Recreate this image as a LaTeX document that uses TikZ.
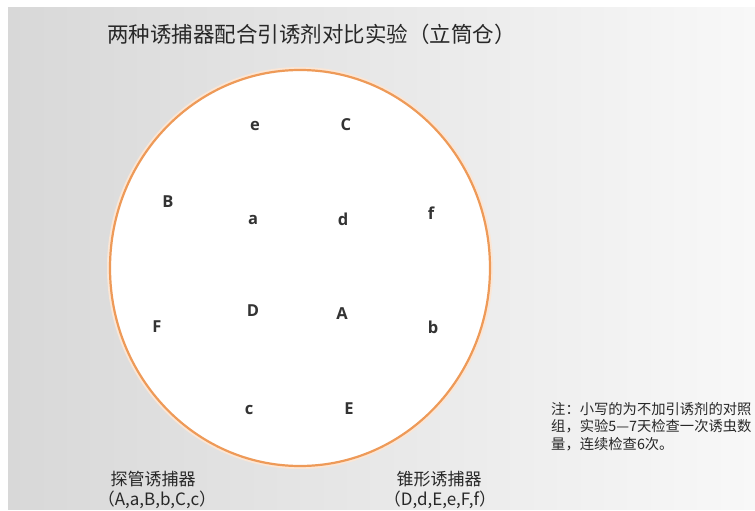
\documentclass[tikz,border=0pt]{standalone}
\usepackage{fontspec}
\setmainfont{Open Sans}
\newfontfamily\cjk{Noto Sans CJK SC}
\definecolor{bgl}{RGB}{216,216,216}
\definecolor{bgr}{RGB}{248,248,248}
\definecolor{ring}{RGB}{238,154,88}
\definecolor{ink}{RGB}{40,40,40}
\begin{document}
\begin{tikzpicture}[x=1pt,y=-1pt,
  letter/.style={inner sep=0pt,text=ink!95,font=\bfseries\fontsize{16.5}{17}\selectfont},
  title/.style={inner sep=0pt,anchor=west,text=ink,font=\cjk\fontsize{21.5}{22}\selectfont},
  label/.style={inner sep=0pt,text=ink,font=\cjk\fontsize{17}{17}\selectfont},
  note/.style={inner sep=0pt,anchor=west,text=ink,font=\cjk\fontsize{14.3}{15}\selectfont}]
\useasboundingbox (0,0) rectangle (755,511);
\clip (0,0) rectangle (755,511);
\fill[white] (0,0) rectangle (755,511);
\shade[left color=bgl,right color=bgr] (8,8) rectangle (755,509);
% ring with faint glow
\draw[ring!25,line width=6pt] (300,268) ellipse [x radius=190, y radius=198];
\draw[fill=white,draw=ring,line width=2.2pt] (300,268) ellipse [x radius=190, y radius=198];
% title
\node[title] (t) at (107,34) {两种诱捕器配合引诱剂对比实验（立筒仓）};
% letters
\node[letter] (e1) at (255,126) {e};
\node[letter] (C1) at (346,125) {C};
\node[letter] (B1) at (168,202) {B};
\node[letter] (a1) at (253,220) {a};
\node[letter] (d1) at (343,219) {d};
\node[letter] (f1) at (431,213) {f};
\node[letter] (D1) at (253,311) {D};
\node[letter] (A1) at (342,314) {A};
\node[letter] (F1) at (157,327) {F};
\node[letter] (b1) at (433,327) {b};
\node[letter] (c1) at (249,410) {c};
\node[letter] (E1) at (349,409) {E};
% bottom labels
\node[label] (l1) at (153,479) {探管诱捕器};
\node[label] (l2) at (157,500) {（A,a,B,b,C,c）};
\node[label] (r1) at (439,479) {锥形诱捕器};
\node[label] (r2) at (440,500) {（D,d,E,e,F,f）};
% note
\node[note] (n1) at (551,409) {注：小写的为不加引诱剂的对照};
\node[note] (n2) at (551,426.5) {组，实验5—7天检查一次诱虫数};
\node[note] (n3) at (551,444) {量，连续检查6次。};
\end{tikzpicture}
\end{document}
